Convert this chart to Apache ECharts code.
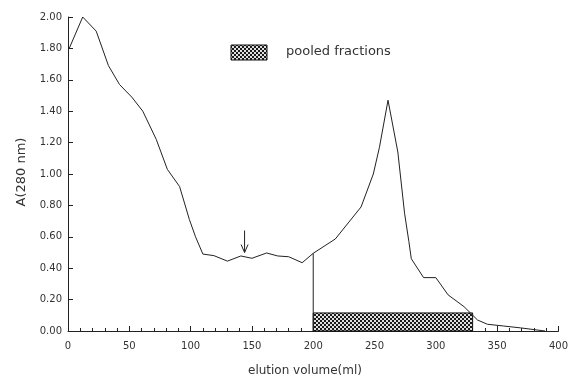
<!DOCTYPE html>
<html>
<head>
<meta charset="utf-8">
<script src="https://cdn.jsdelivr.net/npm/echarts@6/dist/echarts.min.js"></script>
<style>
html,body{margin:0;padding:0;background:#fff;}
#c{width:571px;height:377px;}
</style>
</head>
<body>
<div id="c"></div>
<script>
// Elution volume (ml)
const volume = [1, 12, 23, 33, 42, 52, 61, 72, 81, 91, 99, 104, 110, 119, 130, 141, 150, 162, 171, 180, 191, 200, 218, 239, 249, 254, 261, 269, 274.5, 278, 280, 290, 300, 310, 323, 334, 342, 355, 369, 389];
// Absorbance A(280 nm)
const absorbance = [1.80, 2.00, 1.91, 1.69, 1.57, 1.49, 1.40, 1.22, 1.03, 0.92, 0.71, 0.60, 0.49, 0.48, 0.445, 0.478, 0.463, 0.497, 0.478, 0.473, 0.435, 0.495, 0.586, 0.79, 1.00, 1.17, 1.47, 1.14, 0.75, 0.57, 0.46, 0.34, 0.34, 0.23, 0.155, 0.07, 0.043, 0.032, 0.02, 0.0];
// Pooled fractions range [start, end, height]
const pooledRange = [200, 330, 0.115];
// Vertical cut line at start of pooling
const cutLine = [[200, 0], [200, 0.495]];
// Arrow marker [volume, fromA, toA]
const arrowMark = [144, 0.64, 0.50];
const xTicks = [0, 50, 100, 150, 200, 250, 300, 350, 400];
const yTicks = [0, 0.2, 0.4, 0.6, 0.8, 1.0, 1.2, 1.4, 1.6, 1.8, 2.0];

function makePattern() {
  const c = document.createElement('canvas');
  c.width = 4; c.height = 4;
  const ctx = c.getContext('2d');
  ctx.fillStyle = '#e0e0e0';
  ctx.fillRect(0, 0, 4, 4);
  ctx.fillStyle = '#1a1a1a';
  ctx.fillRect(0, 0, 2, 2);
  ctx.fillRect(2, 2, 2, 2);
  return c;
}
const pat = makePattern();

const chart = echarts.init(document.getElementById('c'), null, {renderer: 'canvas'});
const font = 'DejaVu Sans';
chart.setOption({
  animation: false,
  grid: {left: 68, right: 10, top: 17, bottom: 46},
  xAxis: {
    type: 'value', min: 0, max: 400, interval: 50,
    axisLine: {lineStyle: {color: '#222', width: 1}},
    axisTick: {inside: true, length: 5, lineStyle: {color: '#222'}},
    minorTick: {show: true, splitNumber: 5, length: 3, lineStyle: {color: '#222'}},
    splitLine: {show: false},
    axisLabel: {color: '#333', fontFamily: font, fontSize: 10, margin: 10,
      formatter: v => xTicks.includes(v) ? String(v) : ''}
  },
  yAxis: {
    type: 'value', min: 0, max: 2, interval: 0.2,
    axisLine: {show: true, lineStyle: {color: '#222', width: 1}},
    axisTick: {show: true, inside: true, length: 5, lineStyle: {color: '#222'}},
    splitLine: {show: false},
    axisLabel: {color: '#333', fontFamily: font, fontSize: 10, margin: 6,
      formatter: v => v.toFixed(2)}
  },
  series: [
    {
      type: 'line', data: volume.map((v, i) => [v, absorbance[i]]),
      symbol: 'none', lineStyle: {color: '#222', width: 1}, z: 3
    },
    {
      type: 'line', data: cutLine, symbol: 'none',
      lineStyle: {color: '#222', width: 1}, z: 3
    },
    {
      type: 'custom', z: 2,
      data: [pooledRange],
      renderItem: function (params, api) {
        const p0 = api.coord([api.value(0), api.value(2)]);
        const p1 = api.coord([api.value(1), 0]);
        return {
          type: 'rect',
          shape: {x: p0[0], y: p0[1], width: p1[0] - p0[0], height: p1[1] - p0[1]},
          style: {fill: {image: pat, repeat: 'repeat'}, stroke: '#111', lineWidth: 1}
        };
      }
    },
    {
      type: 'custom', z: 4,
      data: [arrowMark],
      renderItem: function (params, api) {
        const a = api.coord([api.value(0), api.value(1)]);
        const b = api.coord([api.value(0), api.value(2)]);
        return {
          type: 'group',
          children: [
            {type: 'line', shape: {x1: a[0], y1: a[1], x2: b[0], y2: b[1]}, style: {stroke: '#222', lineWidth: 1}},
            {type: 'polyline', shape: {points: [[b[0] - 3.5, b[1] - 8], [b[0], b[1]], [b[0] + 3.5, b[1] - 8]]}, style: {stroke: '#222', lineWidth: 1, fill: null}}
          ]
        };
      }
    }
  ],
  graphic: [
    {type: 'rect', shape: {x: 231, y: 45, width: 36, height: 15},
      style: {fill: {image: pat, repeat: 'repeat'}, stroke: '#111', lineWidth: 1}},
    {type: 'text', left: 286, top: 45,
      style: {text: 'pooled fractions', fontFamily: font, fontSize: 13, fill: '#333'}},
    {type: 'text', left: 248, top: 365,
      style: {text: 'elution volume(ml)', fontFamily: font, fontSize: 12, fill: '#333'}},
    {type: 'text', x: 22, y: 172, rotation: Math.PI / 2,
      style: {text: 'A(280 nm)', fontFamily: font, fontSize: 13, fill: '#333', align: 'center', verticalAlign: 'middle'}}
  ]
});
</script>
</body>
</html>
